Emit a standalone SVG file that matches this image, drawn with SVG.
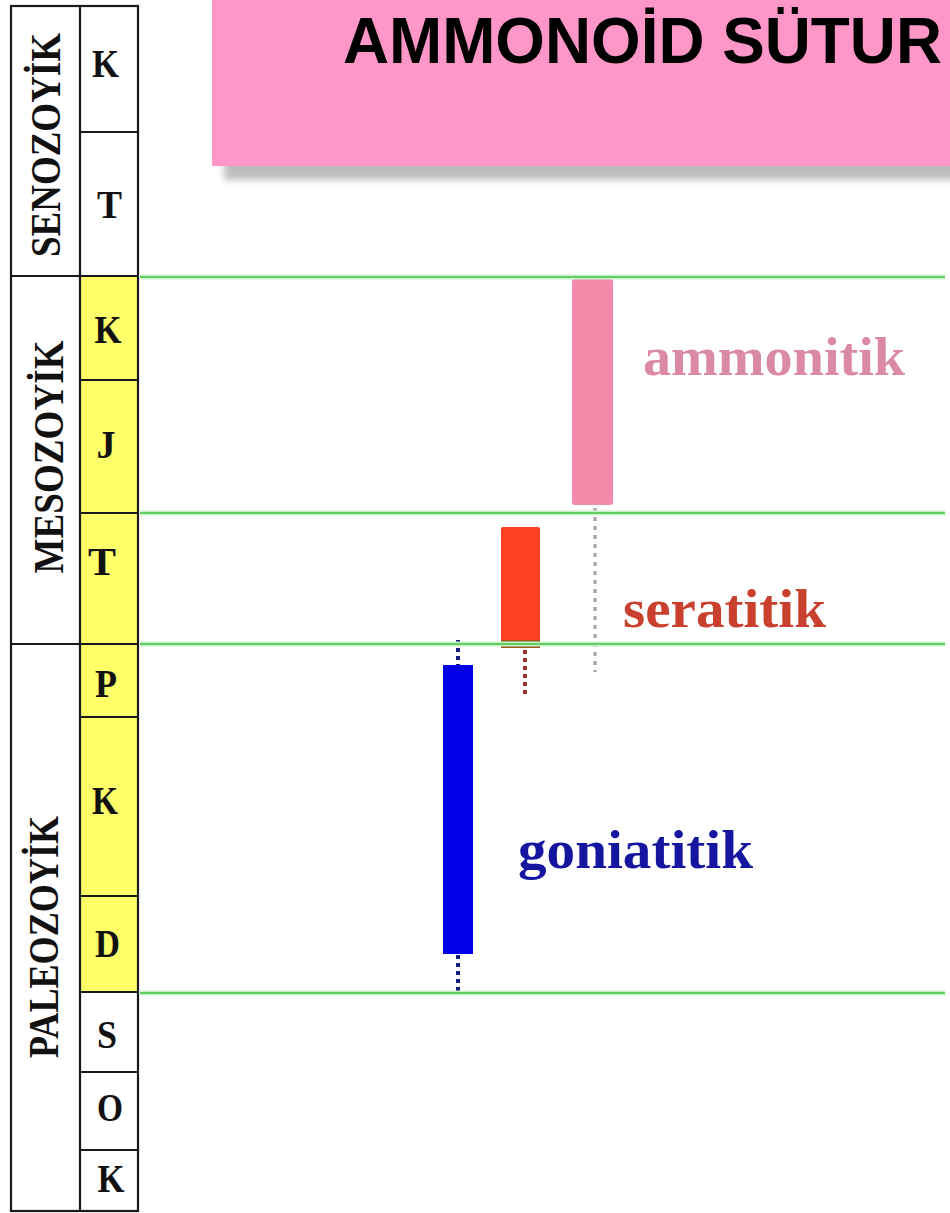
<svg xmlns="http://www.w3.org/2000/svg" width="950" height="1213" viewBox="0 0 950 1213">
<defs>
<filter id="blur" x="-5%" y="-20%" width="110%" height="140%"><feGaussianBlur stdDeviation="3.5"/></filter>
<style>
.tb{fill:none;stroke:#1a1a1a;stroke-width:2.2}
.era{font-family:"Liberation Serif","Times New Roman",serif;font-weight:bold;font-size:42px;fill:#111;text-anchor:middle}
.per{font-family:"Liberation Serif","Times New Roman",serif;font-weight:bold;font-size:40px;fill:#111;text-anchor:middle}
.lbl{font-family:"Liberation Serif","Times New Roman",serif;font-weight:bold;font-size:55px}
.gl{stroke:#5fcf5f;stroke-width:2.2}
.glh{stroke:#c9f0c9;stroke-width:5}
</style>
</defs>
<rect width="950" height="1213" fill="#ffffff"/>

<g id="title">
<rect x="224" y="12" width="740" height="168" fill="#bdbdbd" filter="url(#blur)"/>
<rect x="212" y="0" width="738" height="166" fill="#fe97c8"/>
<text x="343" y="63" font-family="'Liberation Sans',Arial,sans-serif" font-weight="bold" font-size="64" fill="#000" textLength="599" lengthAdjust="spacingAndGlyphs">AMMONOİD SÜTUR</text>
</g>

<g id="timescale">
<rect x="80" y="276" width="58" height="717" fill="#ffff6a"/>
<rect class="tb" x="11" y="6" width="127" height="1205"/>
<line class="tb" x1="80" y1="6" x2="80" y2="1211"/>
<line class="tb" x1="11" y1="276" x2="138" y2="276"/>
<line class="tb" x1="11" y1="644" x2="138" y2="644"/>
<line class="tb" x1="80" y1="132" x2="138" y2="132"/>
<line class="tb" x1="80" y1="380" x2="138" y2="380"/>
<line class="tb" x1="80" y1="513" x2="138" y2="513"/>
<line class="tb" x1="80" y1="717" x2="138" y2="717"/>
<line class="tb" x1="80" y1="896" x2="138" y2="896"/>
<line class="tb" x1="80" y1="992" x2="138" y2="992"/>
<line class="tb" x1="80" y1="1072" x2="138" y2="1072"/>
<line class="tb" x1="80" y1="1150" x2="138" y2="1150"/>
<text class="era" transform="translate(60,145) rotate(-90)" textLength="224" lengthAdjust="spacingAndGlyphs">SENOZOYİK</text>
<text class="era" transform="translate(63,457) rotate(-90)" textLength="233" lengthAdjust="spacingAndGlyphs">MESOZOYİK</text>
<text class="era" transform="translate(58,937) rotate(-90)" textLength="242" lengthAdjust="spacingAndGlyphs">PALEOZOYİK</text>
<text class="per" x="105.5" y="77" textLength="27" lengthAdjust="spacingAndGlyphs">K</text>
<text class="per" x="109.5" y="218" textLength="25" lengthAdjust="spacingAndGlyphs">T</text>
<text class="per" x="108" y="343" textLength="27" lengthAdjust="spacingAndGlyphs">K</text>
<text class="per" x="106" y="458" textLength="19" lengthAdjust="spacingAndGlyphs">J</text>
<text class="per" x="102" y="575" textLength="28" lengthAdjust="spacingAndGlyphs">T</text>
<text class="per" x="106" y="697" textLength="22" lengthAdjust="spacingAndGlyphs">P</text>
<text class="per" x="105" y="814" textLength="26" lengthAdjust="spacingAndGlyphs">K</text>
<text class="per" x="107.5" y="957" textLength="25" lengthAdjust="spacingAndGlyphs">D</text>
<text class="per" x="107" y="1048" textLength="20" lengthAdjust="spacingAndGlyphs">S</text>
<text class="per" x="110" y="1121" textLength="26" lengthAdjust="spacingAndGlyphs">O</text>
<text class="per" x="111" y="1192" textLength="27" lengthAdjust="spacingAndGlyphs">K</text>
</g>

<g id="ammonitik">
<rect x="572" y="279" width="41" height="226" rx="3" fill="#f48aa9"/>
<line x1="595" y1="508" x2="595" y2="672" stroke="#b3a9ad" stroke-width="3.5" stroke-dasharray="4 5"/>
<text class="lbl" x="643" y="375" fill="#da8aa2" textLength="262" lengthAdjust="spacingAndGlyphs">ammonitik</text>
</g>

<g id="seratitik">
<rect x="501" y="527" width="39" height="121" rx="2" fill="#fb4121"/>
<rect x="501" y="640" width="39" height="8" fill="#9a5a1e"/>
<line x1="525" y1="650" x2="525" y2="698" stroke="#a0302a" stroke-width="4" stroke-dasharray="4 4"/>
<text class="lbl" x="623" y="627" fill="#c9402f" textLength="203" lengthAdjust="spacingAndGlyphs">seratitik</text>
</g>

<g id="goniatitik">
<rect x="443" y="665" width="30" height="289" fill="#0000e6"/>
<line x1="458" y1="640" x2="458" y2="665" stroke="#10207a" stroke-width="4" stroke-dasharray="4 4"/>
<line x1="458" y1="955" x2="458" y2="993" stroke="#10207a" stroke-width="4" stroke-dasharray="4 4"/>
<text class="lbl" x="518" y="868" fill="#1515a0" textLength="235" lengthAdjust="spacingAndGlyphs">goniatitik</text>
</g>

<g id="connectors">
<line class="glh" x1="140" y1="277" x2="945" y2="277"/>
<line class="glh" x1="140" y1="513" x2="945" y2="513"/>
<line class="glh" x1="140" y1="644" x2="945" y2="644"/>
<line class="glh" x1="140" y1="993" x2="945" y2="993"/>
<line class="gl" x1="140" y1="277" x2="945" y2="277"/>
<line class="gl" x1="140" y1="513" x2="945" y2="513"/>
<line class="gl" x1="140" y1="644" x2="945" y2="644"/>
<line class="gl" x1="140" y1="993" x2="945" y2="993"/>
</g>
</svg>
